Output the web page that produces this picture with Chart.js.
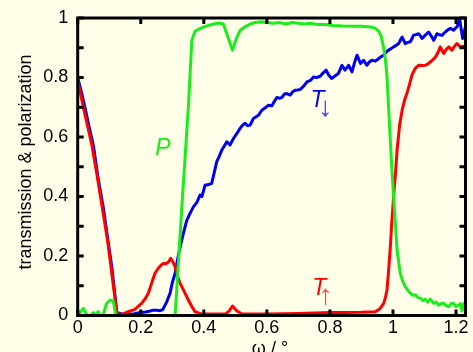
<!DOCTYPE html>
<html lang="en">
<head>
<meta charset="UTF-8">
<title>transmission &amp; polarization</title>
<style>
  html, body { margin: 0; padding: 0; background: #fefee8; }
  canvas { display: block; }
</style>
</head>
<body>
<canvas id="grafica" width="473" height="352"></canvas>
<script src="https://cdn.jsdelivr.net/npm/chart.js@4.4.1/dist/chart.umd.min.js"></script>
<script>
// T down (blue)
const omegaDown = [0, .012, .023, .035, .05, .065, .081, .095, .108, .118,
  .124, .14, .16, .18, .198, .215, .23, .24, .25, .26,
  .27, .282, .293, .30, .309, .317, .325, .335, .346, .357,
  .367, .378, .388, .394, .404, .415, .425, .433, .441, .449,
  .457, .465, .473, .483, .494, .505, .515, .523, .531, .539,
  .547, .557, .565, .573, .584, .595, .605, .616, .624, .632,
  .64, .648, .656, .663, .674, .682, .69, .698, .706, .716,
  .727, .738, .748, .758, .769, .778, .788, .795, .805, .816,
  .827, .838, .848, .859, .87, .878, .886, .897, .907, .917,
  .925, .933, .944, .955, .962, .97, .978, .986, .994, 1.002,
  1.01, 1.018, 1.023, 1.029, 1.034, 1.039, 1.047, 1.055, 1.06, 1.065,
  1.073, 1.081, 1.087, 1.092, 1.097, 1.102, 1.108, 1.113, 1.121, 1.129,
  1.134, 1.139, 1.147, 1.156, 1.161, 1.166, 1.174, 1.182, 1.187, 1.192,
  1.197, 1.203, 1.208, 1.211, 1.216, 1.221, 1.226, 1.23];
const tDown = [.80, .75, .70, .64, .57, .46, .365, .26, .165, .07,
  .01, .005, .005, .006, .01, .012, .015, .018, .018, .016,
  .02, .045, .075, .11, .142, .19, .231, .275, .32, .345,
  .365, .38, .405, .40, .438, .44, .444, .48, .517, .535,
  .556, .57, .584, .573, .595, .612, .629, .64, .646, .638,
  .64, .662, .667, .673, .69, .698, .707, .705, .72, .733,
  .73, .733, .745, .746, .741, .752, .757, .758, .76, .77,
  .785, .79, .802, .80, .804, .815, .825, .81, .797, .805,
  .814, .841, .825, .841, .819, .85, .875, .847, .858, .841,
  .852, .858, .855, .864, .87, .875, .885, .892, .897, .903,
  .908, .914, .925, .936, .925, .914, .918, .92, .93, .942,
  .944, .947, .94, .931, .936, .942, .948, .953, .94, .925,
  .935, .947, .944, .942, .948, .953, .96, .965, .962, .959,
  .965, .97, .985, 1.0, .965, .931, .955, .97];

// T up (red)
const omegaUp = [0, .02, .044, .06, .081, .095, .108, .118, .124, .14,
  .16, .18, .203, .215, .224, .235, .245, .255, .265, .272,
  .28, .288, .295, .302, .309, .317, .325, .338, .351, .362,
  .372, .39, .42, .45, .47, .48, .491, .505, .52, .54,
  .6, .65, .7, .75, .8, .85, .9, .944, .958, .97,
  .976, .981, .986, .991, .996, 1.002, 1.008, 1.013, 1.021, 1.029,
  1.037, 1.044, 1.052, 1.06, 1.07, 1.081, 1.092, 1.102, 1.11, 1.118,
  1.127, 1.135, 1.143, 1.15, 1.156, 1.161, 1.169, 1.177, 1.187, 1.195,
  1.203, 1.214, 1.222, 1.23];
const tUp = [.79, .69, .578, .48, .343, .25, .143, .06, .008, .003,
  .013, .02, .041, .058, .075, .11, .142, .158, .17, .175,
  .174, .18, .192, .18, .164, .13, .108, .08, .052, .03,
  .013, .006, .005, .005, .006, .015, .032, .015, .006, .005,
  .005, .006, .007, .008, .01, .01, .011, .013, .022, .04,
  .06, .086, .15, .22, .31, .40, .48, .556, .64, .69,
  .725, .746, .775, .808, .83, .841, .84, .841, .845, .852,
  .86, .869, .885, .903, .89, .881, .895, .903, .892, .905,
  .914, .903, .905, .903];

// P (green)
const omegaP = [0, .018, .03, .04, .05, .057, .065, .07, .08, .092,
  .103, .113, .121, .2, .309, .33, .351, .362, .372, .383,
  .40, .415, .431, .447, .462, .475, .491, .503, .515, .53,
  .547, .563, .58, .6, .62, .64, .66, .68, .7, .72,
  .74, .76, .785, .81, .84, .87, .9, .93, .944, .955,
  .962, .97, .976, .981, .986, .991, .996, 1.002, 1.008, 1.013,
  1.023, 1.031, 1.039, 1.047, 1.055, 1.063, 1.071, 1.079, 1.087, 1.095,
  1.102, 1.11, 1.118, 1.129, 1.137, 1.145, 1.153, 1.161, 1.169, 1.177,
  1.185, 1.192, 1.2, 1.208, 1.214, 1.219, 1.225, 1.23];
const pol = [0, .024, 0, 0, .01, 0, .013, 0, 0, .041,
  .052, .048, 0, 0, 0, .36, .70, .925, .955, .962,
  .97, .975, .98, .983, .98, .94, .892, .93, .958, .97,
  .98, .985, .987, .985, .982, .985, .98, .985, .982, .98,
  .982, .978, .978, .975, .973, .972, .972, .97, .965, .955,
  .94, .903, .86, .802, .70, .60, .50, .40, .30, .22,
  .142, .115, .097, .085, .075, .068, .07, .06, .058, .05,
  .055, .045, .055, .041, .045, .035, .04, .041, .033, .03,
  .04, .041, .03, .035, .04, .015, .04, .045];

// marcas del marco
const xTicks = [0, 0.2, 0.4, 0.6, 0.8, 1.0, 1.2];
const yTicks = [0, 0.1, 0.2, 0.3, 0.4, 0.5, 0.6, 0.7, 0.8, 0.9, 1.0];

const azul = '#0000f0';
const rojo = '#ff0000';
const verde = '#1aee1a';
const fondo = '#fefee8';
const fuente = '"Liberation Sans", Arial, sans-serif';

const puntos = (xs, ys) => xs.map((v, i) => ({x: v, y: ys[i]}));

// etiquetas dentro de la grafica (coordenadas de datos)
const etiquetas = [
  {text: 'P', x: 0.27, y: 0.539, color: verde, font: 'italic 23px ' + fuente},
  {text: 'T', x: 0.761, y: 0.70, color: azul, font: 'italic 23px ' + fuente},
  {text: '\u2193', x: 0.786, y: 0.672, color: '#3a3af4', font: '28px ' + fuente},
  {text: 'T', x: 0.766, y: 0.069, color: rojo, font: 'italic 23px ' + fuente},
  {text: '\u2191', x: 0.787, y: 0.040, color: '#ff4040', font: '28px ' + fuente}
];

const marco = {
  id: 'marco',
  beforeDraw(chart) {
    const {ctx, width, height} = chart;
    ctx.save();
    ctx.fillStyle = fondo;
    ctx.fillRect(0, 0, width, height);
    ctx.restore();
  },
  afterDraw(chart) {
    const {ctx, chartArea: a, scales: {x, y}} = chart;
    ctx.save();
    ctx.strokeStyle = '#000';
    ctx.lineWidth = 3;
    ctx.beginPath();
    yTicks.forEach(v => {
      const py = y.getPixelForValue(v);
      ctx.moveTo(a.left, py); ctx.lineTo(a.left + 6, py);
      ctx.moveTo(a.right, py); ctx.lineTo(a.right - 6, py);
    });
    xTicks.forEach(v => {
      const px = x.getPixelForValue(v);
      ctx.moveTo(px, a.bottom); ctx.lineTo(px, a.bottom - 6);
      ctx.moveTo(px, a.top); ctx.lineTo(px, a.top + 6);
    });
    ctx.stroke();
    ctx.strokeRect(a.left, a.top, a.right - a.left, a.bottom - a.top);

    // etiquetas
    ctx.textAlign = 'center';
    ctx.textBaseline = 'alphabetic';
    etiquetas.forEach(e => {
      ctx.fillStyle = e.color;
      ctx.font = e.font;
      ctx.fillText(e.text, x.getPixelForValue(e.x), y.getPixelForValue(e.y));
    });

    // titulos de los ejes
    ctx.fillStyle = '#000';
    ctx.font = '18px ' + fuente;
    ctx.textBaseline = 'middle';
    ctx.fillText('\u03c9 / \u00b0', 270, 349.5);
    ctx.translate(26.5, 162);
    ctx.rotate(-Math.PI / 2);
    ctx.fillText('transmission & polarization', 0, 0);
    ctx.restore();
  }
};

const formato = v => String(+Number(v).toFixed(1));

new Chart(document.getElementById('grafica').getContext('2d'), {
  type: 'line',
  data: {
    datasets: [
      {label: 'P', data: puntos(omegaP, pol), borderColor: verde},
      {label: 'T up', data: puntos(omegaUp, tUp), borderColor: rojo},
      {label: 'T down', data: puntos(omegaDown, tDown), borderColor: azul}
    ]
  },
  options: {
    responsive: false,
    animation: false,
    layout: {padding: {left: 0, top: 18, right: 7.5, bottom: 0}},
    plugins: {legend: {display: false}, tooltip: {enabled: false}},
    elements: {
      point: {radius: 0},
      line: {borderWidth: 3, tension: 0, fill: false, borderJoinStyle: 'round'}
    },
    scales: {
      x: {
        type: 'linear', min: 0, max: 1.23,
        grid: {display: false, drawTicks: false},
        border: {display: false},
        ticks: {
          stepSize: 0.2, includeBounds: false, padding: 2, color: '#000',
          maxRotation: 0, autoSkip: false,
          font: {family: fuente, size: 18}, callback: formato
        },
        afterFit(s) { s.height = 36.5; s.paddingLeft = 0; s.paddingRight = 0; }
      },
      y: {
        type: 'linear', min: 0, max: 1,
        grid: {display: false, drawTicks: false},
        border: {display: false},
        ticks: {
          stepSize: 0.2, padding: 9.5, color: '#000',
          font: {family: fuente, size: 18}, callback: formato
        },
        afterFit(s) { s.width = 77.7; s.paddingTop = 0; s.paddingBottom = 0; }
      }
    }
  },
  plugins: [marco]
});
</script>
</body>
</html>
